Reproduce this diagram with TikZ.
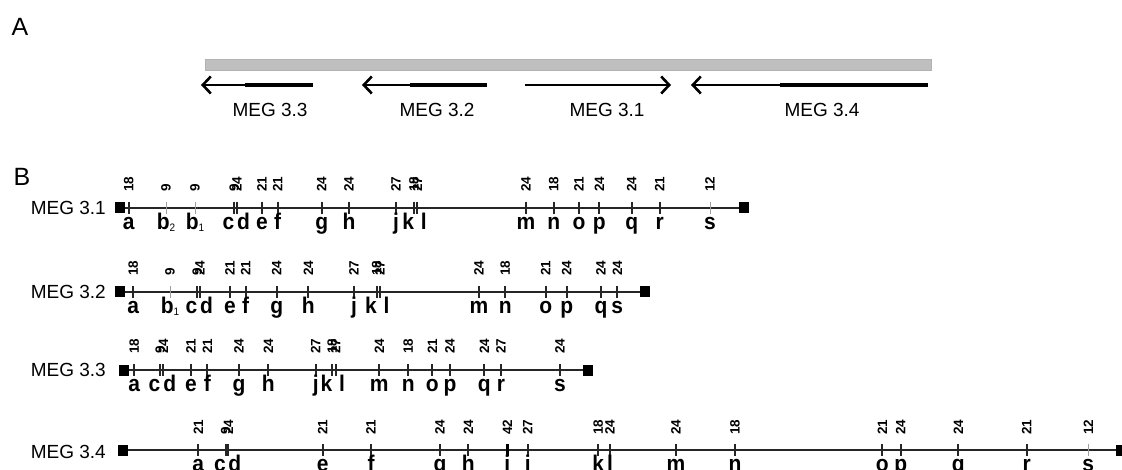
\documentclass[tikz,border=0pt]{standalone}
\usepackage{fontspec}
\setmainfont{Liberation Sans}
\usetikzlibrary{arrows.meta}
\usetikzlibrary{positioning}

\newcommand{\sub}[1]{\raisebox{-2pt}{\mdseries\fontsize{10}{10}\selectfont#1}}
\newcommand{\tall}[1]{\scalebox{1}[1.08]{#1}}

\begin{document}
\begin{tikzpicture}[
    x=1pt, y=-1pt,
    panel/.style={font=\fontsize{25}{25}\selectfont, inner sep=0},
    genome/.style={draw=gray!60, fill=gray!50, line width=0.6pt},
    gene/.style={-{Straight Barb[length=8pt,width=17pt,line width=2.6pt]}, line width=2.2pt, black},
    genebody/.style={line width=3.8pt, black},
    megname/.style={font=\fontsize{19}{19}\selectfont, inner sep=0},
    endbox/.style={rectangle, fill=black, minimum width=10.5pt, minimum height=11pt, inner sep=0},
    backbone/.style={line width=1.5pt, black!85},
    tk/.style={line width=1.7pt, black!85},
    wk/.style={line width=0.9pt, gray!75},
    hv/.style={line width=3.4pt, black},
    rnum/.style={rotate=90, anchor=west, inner sep=0, font=\bfseries\fontsize{13.5}{13.5}\selectfont},
    rlet/.style={anchor=base, inner sep=0, font=\bfseries\fontsize{21}{21}\selectfont}
]
\useasboundingbox (0,0) rectangle (1122,470);

% A: locus and the four genes
\node[panel] (A) at (20,27) {A};
\draw[genome] (205,59) rectangle (931,70);

\coordinate (g33t) at (313,85);
\coordinate (g33m) at (245,85);
\coordinate (g33h) at (201,85);
\draw[gene] (g33t) -- (g33h);
\draw[genebody] (g33t) -- (g33m);
\node[megname] (l33) at (270,110) {MEG 3.3};

\coordinate (g32t) at (487,85);
\coordinate (g32m) at (410,85);
\coordinate (g32h) at (362,85);
\draw[gene] (g32t) -- (g32h);
\draw[genebody] (g32t) -- (g32m);
\node[megname] (l32) at (437,110) {MEG 3.2};

\coordinate (g31t) at (525,85);
\coordinate (g31h) at (671,85);
\draw[gene, line width=2.8pt] (g31t) -- (g31h);
\node[megname] (l31) at (607,110) {MEG 3.1};

\coordinate (g34t) at (928,85);
\coordinate (g34m) at (780,85);
\coordinate (g34h) at (691,85);
\draw[gene] (g34t) -- (g34h);
\draw[genebody] (g34t) -- (g34m);
\node[megname] (l34) at (822,110) {MEG 3.4};

% B: repeats along each gene
\node[panel] (B) at (22,176.5) {B};

% MEG 3.1
\node[megname, anchor=east] (r1) at (106,208) {MEG 3.1};
\node[endbox] (r1a) at (120,208) {};
\node[endbox] (r1b) at (744,208) {};
\draw[backbone] (r1a) -- (r1b);
\foreach \x/\n/\l/\s [count=\i] in {128.7/18/a/tk, 166/9/b\sub{2}/wk, 195/9/b\sub{1}/wk,
    234.3/9/\llap{c}/tk, 237/24/\rlap{d}/tk, 262/21/e/tk, 277.7/21/f/tk, 321.7/24/g/tk,
    349/24/h/tk, 396/27/j/tk, 414/18/\llap{k}/tk, 417.3/27/\rlap{\,l}/tk, 526/24/m/tk,
    553.7/18/n/tk, 579/21/o/tk, 599.3/24/p/tk, 631.7/24/q/tk, 659.7/21/r/tk, 710/12/s/wk} {
  \draw[\s] (\x,202) -- (\x,214);
  \node[rnum] (r1n\i) at (\x,192) {\n};
  \node[rlet] (r1l\i) at (\x,229.5) {\tall{\l}};
}

% MEG 3.2
\node[megname, anchor=east] (r2) at (106,292) {MEG 3.2};
\node[endbox] (r2a) at (120,292) {};
\node[endbox] (r2b) at (645,292) {};
\draw[backbone] (r2a) -- (r2b);
\foreach \x/\n/\l/\s [count=\i] in {133.3/18/a/tk, 170/9/b\sub{1}/wk,
    197.3/9/\llap{c}/tk, 200/24/\rlap{d}/tk, 230/21/e/tk, 245.7/21/f/tk, 276.7/24/g/tk,
    308.3/24/h/tk, 354/27/j/tk, 376.7/18/\llap{k}/tk, 380/27/\rlap{\,l}/tk, 479/24/m/tk,
    505.3/18/n/tk, 545.7/21/o/tk, 566.7/24/p/tk, 601/24/q/tk, 617.3/24/s/tk} {
  \draw[\s] (\x,286) -- (\x,298);
  \node[rnum] (r2n\i) at (\x,276) {\n};
  \node[rlet] (r2l\i) at (\x,313.5) {\tall{\l}};
}

% MEG 3.3
\node[megname, anchor=east] (r3) at (106,370) {MEG 3.3};
\node[endbox] (r3a) at (124,370) {};
\node[endbox] (r3b) at (588,370) {};
\draw[backbone] (r3a) -- (r3b);
\foreach \x/\n/\l/\s [count=\i] in {134.3/18/a/tk,
    160.3/9/\llap{c}/tk, 163.3/24/\rlap{d}/tk, 191/21/e/tk, 207.3/21/f/tk, 239/24/g/tk,
    268.3/24/h/tk, 315.7/27/j/tk, 332.3/18/\llap{k}/tk, 335.7/27/\rlap{\,l}/tk, 379.3/24/m/tk,
    408.3/18/n/tk, 432.3/21/o/tk, 450/24/p/tk, 484.3/24/q/tk, 501/27/r/tk, 560/24/s/tk} {
  \draw[\s] (\x,364) -- (\x,376);
  \node[rnum] (r3n\i) at (\x,354) {\n};
  \node[rlet] (r3l\i) at (\x,391.5) {\tall{\l}};
}

% MEG 3.4
\node[megname, anchor=east] (r4) at (106,452) {MEG 3.4};
\node[endbox] (r4a) at (123,450) {};
\node[endbox] (r4b) at (1121.5,450) {};
\draw[backbone] (r4a) -- (r4b);
\foreach \x/\n/\l/\s [count=\i] in {198.3/21/a/tk,
    225.7/9/\llap{c}/tk, 228.3/24/\rlap{d}/tk, 322.7/21/e/tk, 371/21/f/tk, 440/24/g/tk,
    468.3/24/h/tk, 507.3/42/i/hv, 527.7/27/j/tk, 598.3/18/k/tk, 610/24/l/tk, 676/24/m/tk,
    735/18/n/tk, 882.3/21/o/tk, 900.7/24/p/tk, 958.3/24/q/tk, 1026.7/21/r/tk, 1088.3/12/s/wk} {
  \draw[\s] (\x,444) -- (\x,456);
  \node[rnum] (r4n\i) at (\x,435) {\n};
  \node[rlet] (r4l\i) at (\x,471) {\tall{\l}};
}

\end{tikzpicture}
\end{document}
